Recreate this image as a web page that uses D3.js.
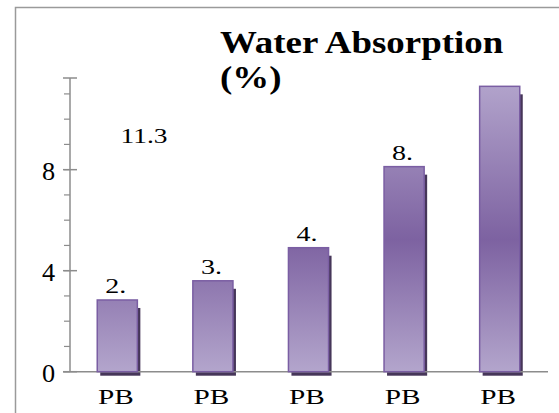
<!DOCTYPE html>
<html>
<head>
<meta charset="utf-8">
<script src="https://cdn.jsdelivr.net/npm/d3@7"></script>
<style>
  body { margin: 0; background: #fff; }
  text { font-family: "Liberation Serif", "Times New Roman", serif; fill: #000; }
</style>
</head>
<body>
<div id="chart"></div>
<script>
// chart data
var categories = ["PB", "PB", "PB", "PB", "PB"];
var absorption = [2.84, 3.6, 4.91, 8.12, 11.3];
var valueLabels = ["2.", "3.", "4.", "8.", "11.3"];
var majorTicks = [0, 4, 8];
var titleLines = ["Water Absorption", "(%)"];

var svgWidth = 559;
var svgHeight = 413;

var svg = d3.select("#chart")
  .append("svg")
  .attr("width", svgWidth)
  .attr("height", svgHeight);

// stretch text horizontally, the picture's glyphs are wider than normal
function stretch(sel, k) {
  sel.each(function () {
    var w = this.getComputedTextLength();
    d3.select(this).attr("textLength", w * k).attr("lengthAdjust", "spacingAndGlyphs");
  });
}

// outer frame (runs off the right and bottom)
svg.append("rect")
  .attr("x", 15.5).attr("y", 7.5)
  .attr("width", 600).attr("height", 500)
  .attr("fill", "none")
  .attr("stroke", "#9a9a9a")
  .attr("stroke-width", 1.5);

var xScale = d3.scaleBand()
  .domain(d3.range(categories.length))
  .range([70, 548])
  .paddingInner(0.57)
  .paddingOuter(0.285);

var yMax = 11.63;
var yScale = d3.scaleLinear()
  .domain([0, yMax])
  .range([371.7, 78]);

// gradient for bars
var defs = svg.append("defs");
var grad = defs.append("linearGradient")
  .attr("id", "barGrad")
  .attr("gradientUnits", "userSpaceOnUse")
  .attr("x1", 0).attr("x2", 0)
  .attr("y1", yScale(yMax)).attr("y2", yScale(0));
grad.append("stop").attr("offset", "0%").attr("stop-color", "#b4a6cd");
grad.append("stop").attr("offset", "55%").attr("stop-color", "#7d62a1");
grad.append("stop").attr("offset", "100%").attr("stop-color", "#b3a5cc");

// y axis: minor ticks every 1, major ticks both sides
var axisColor = "#8c8c8c";
var yAxis = svg.append("g");
yAxis.append("line")
  .attr("x1", 70).attr("x2", 70)
  .attr("y1", yScale(yMax)).attr("y2", yScale(0))
  .attr("stroke", axisColor).attr("stroke-width", 1.5);

yAxis.selectAll(".minor")
  .data(d3.range(0, 12))
  .enter()
  .append("line")
  .attr("x1", 64).attr("x2", 70)
  .attr("y1", d => yScale(d)).attr("y2", d => yScale(d))
  .attr("stroke", axisColor).attr("stroke-width", 1.2);

yAxis.selectAll(".major")
  .data(majorTicks.concat([yMax]))
  .enter()
  .append("line")
  .attr("x1", 63).attr("x2", 77)
  .attr("y1", d => yScale(d)).attr("y2", d => yScale(d))
  .attr("stroke", axisColor).attr("stroke-width", 1.5);

yAxis.selectAll(".lbl")
  .data(majorTicks)
  .enter()
  .append("text")
  .attr("x", 55)
  .attr("y", d => yScale(d))
  .attr("dy", "0.42em")
  .attr("text-anchor", "end")
  .attr("font-size", 25)
  .text(d => d)
  .call(stretch, 1.05);

// bar shadows
svg.selectAll(".shadow")
  .data(absorption)
  .enter()
  .append("rect")
  .attr("x", (d, i) => xScale(i) + 3)
  .attr("y", d => yScale(d) + 8)
  .attr("width", xScale.bandwidth() - 1)
  .attr("height", d => yScale(0) - yScale(d) - 4)
  .attr("fill", "#463659");

// x axis line
svg.append("line")
  .attr("x1", 63).attr("x2", 548)
  .attr("y1", yScale(0)).attr("y2", yScale(0))
  .attr("stroke", axisColor).attr("stroke-width", 1.5);

// bars
svg.selectAll(".bar")
  .data(absorption)
  .enter()
  .append("rect")
  .attr("x", (d, i) => xScale(i))
  .attr("y", d => yScale(d))
  .attr("width", xScale.bandwidth() - 1)
  .attr("height", d => yScale(0) - yScale(d))
  .attr("fill", "url(#barGrad)")
  .attr("stroke", "#7a5ea3")
  .attr("stroke-width", 1.5);

// value labels (last one sits off by itself in the picture)
svg.selectAll(".vlabel")
  .data(absorption.slice(0, 4))
  .enter()
  .append("text")
  .attr("x", (d, i) => xScale(i) + xScale.bandwidth() / 2 - 2)
  .attr("y", d => yScale(d) - 7)
  .attr("text-anchor", "middle")
  .attr("font-size", 20)
  .text((d, i) => valueLabels[i])
  .call(stretch, 1.4);

svg.append("text")
  .attr("x", xScale(0) + xScale.step() * 0.49)
  .attr("y", yScale(9.06))
  .attr("text-anchor", "middle")
  .attr("font-size", 20)
  .text(valueLabels[4])
  .call(stretch, 1.37);

// category labels
svg.selectAll(".xlabel")
  .data(categories)
  .enter()
  .append("text")
  .attr("x", (d, i) => xScale(i) + xScale.bandwidth() / 2 - 2)
  .attr("y", 404)
  .attr("text-anchor", "middle")
  .attr("font-size", 22)
  .text(d => d)
  .call(stretch, 1.33);

// title, two lines
svg.selectAll(".title")
  .data(titleLines)
  .enter()
  .append("text")
  .attr("x", 220)
  .attr("y", (d, i) => 53 + i * 35)
  .attr("font-size", 31)
  .attr("font-weight", "bold")
  .text(d => d)
  .call(stretch, 1.19);
</script>
</body>
</html>
